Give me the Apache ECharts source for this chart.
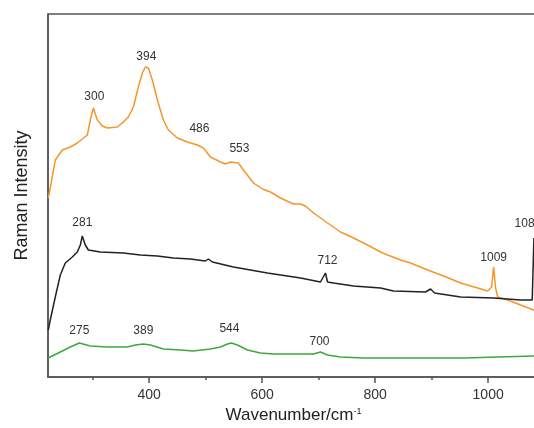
<!DOCTYPE html>
<html>
<head>
<meta charset="utf-8">
<script src="https://cdn.jsdelivr.net/npm/echarts@6/dist/echarts.min.js"></script>
<style>
    html, body { margin: 0; padding: 0; background: #fff; }
    #main { width: 534px; height: 428px; }
</style>
</head>
<body>
<div id="main"></div>
<script type="text/javascript">
    // spectra: [wavenumber, intensity (arb.)]
    var orange = [
        [221.5, 179], [225, 189], [233.9, 217], [246.3, 227], [260.5, 230], [272.9, 234], [290.6, 242],
        [295.9, 257], [301.2, 269], [308.3, 257], [317.2, 251], [326, 249], [343.7, 250], [354.4, 255],
        [363.2, 260], [372.1, 270], [380.9, 290], [388, 304], [393.3, 310], [398.6, 309], [405.7, 297],
        [414.6, 277], [425.2, 257], [434.1, 247], [450, 239], [467.7, 235], [485.4, 232], [496.1, 229],
        [508.5, 220], [526.2, 215], [535, 213], [543.9, 215], [558, 214], [566.9, 207], [584.6, 194],
        [600.6, 188], [614.7, 185], [632.4, 179], [655.5, 173], [667.9, 173], [676.7, 171], [690.9, 164],
        [715.7, 154], [738.7, 145], [761.8, 139], [786.5, 132], [809.6, 125], [822, 122], [845, 117],
        [862.7, 114], [892.8, 107], [921.2, 101], [951.3, 94], [981.4, 89], [999.1, 86], [1006.2, 90],
        [1009.7, 110], [1013.2, 89], [1016.8, 80], [1034.5, 77], [1057.5, 72], [1080.6, 67], [1090, 65]
    ];
    var black = [
        [221.5, 47], [225, 57], [233.9, 80], [242.8, 102], [251.6, 114], [264, 120], [272.9, 125],
        [278.2, 132], [281.7, 141], [287, 132], [292.4, 127], [313.6, 125], [354.4, 124], [384.5, 122],
        [414.6, 121], [443, 119], [473, 118], [499.6, 116], [504.9, 118], [512, 115], [549.2, 110],
        [609.4, 104], [667.9, 99], [703.3, 95], [712.1, 104], [715.7, 95], [726.3, 94], [761.8, 91],
        [809.6, 89], [832.6, 86], [889.3, 85], [898.1, 88], [905.2, 84], [951.3, 80], [1009.7, 79],
        [1057.5, 77], [1078, 77], [1081, 139], [1084, 77]
    ];
    var green = [
        [221.5, 19], [242.8, 25], [260.5, 30], [276.4, 34], [295.9, 31], [326, 30], [361.4, 30],
        [375.6, 32], [389.8, 33], [402.2, 32], [425.2, 28], [455.3, 27], [478.3, 26], [508.5, 28],
        [526.2, 30], [538.6, 33], [545.7, 34], [556.3, 32], [574, 27], [597, 24], [620, 23], [650.1, 23],
        [667.9, 23], [690.9, 23], [703.3, 25], [715.7, 22], [738.7, 20], [779.4, 19], [839.7, 19],
        [898.1, 19], [956.6, 19], [1016.8, 20], [1080.6, 21], [1090, 21]
    ];

    // peak annotations: [wavenumber of the point, text]
    var orangePeaks = [[301.2, '300'], [393.3, '394'], [485.4, '486'], [558, '553'], [1009.7, '1009']];
    var blackPeaks = [[281.7, '281'], [712.1, '712'], [1081, '1086']];
    var greenPeaks = [[276.4, '275'], [389.8, '389'], [545.7, '544'], [703.3, '700']];

    var majorTicks = [400, 600, 800, 1000];
    var minorTicks = [300, 500, 700, 900];

    // label nudges [dx, distance above point]
    var labelNudge = {
        '300': [1, 5], '394': [1, 4], '486': [2, 10], '553': [1, 8], '1009': [0, 3],
        '281': [0, 7], '712': [2, 6], '1086': [-6, 8],
        '275': [0, 6], '389': [0, 7], '544': [-2, 8], '700': [-1, 4]
    };

    var font = 'Liberation Sans';

    var buildData = function (points, peaks) {
        return points.map(function (p) {
            var hit = null;
            peaks.forEach(function (pk) { if (pk[0] === p[0]) hit = pk[1]; });
            if (!hit) return { value: p };
            var n = labelNudge[hit];
            return {
                value: p,
                label: {
                    show: true,
                    position: 'top',
                    formatter: hit,
                    distance: n[1],
                    offset: [n[0], 0],
                    color: '#333',
                    fontSize: 12,
                    fontFamily: font
                }
            };
        });
    };

    var makeSeries = function (name, points, peaks, color) {
        return {
            name: name,
            type: 'line',
            xAxisIndex: 0,
            data: buildData(points, peaks),
            symbol: 'circle',
            symbolSize: 0,
            showSymbol: true,
            showAllSymbol: true,
            lineStyle: { color: color, width: 1.5 },
            itemStyle: { color: color },
            z: 3
        };
    };

    var myChart = echarts.init(document.getElementById('main'));
    var option = {
        animation: false,
        backgroundColor: '#fff',
        grid: {
            left: 48,
            top: 14,
            width: 491,
            height: 363,
            show: true,
            borderColor: '#555',
            borderWidth: 1.5,
            containLabel: false,
            outerBoundsMode: 'none'
        },
        xAxis: [{
            type: 'value',
            position: 'bottom',
            min: 221,
            max: 1090,
            name: 'Wavenumber/cm{sup|-1}',
            nameLocation: 'middle',
            nameGap: 28,
            nameTextStyle: {
                color: '#222',
                fontSize: 17,
                fontFamily: font,
                rich: { sup: { fontSize: 9, verticalAlign: 'top', color: '#222', padding: [0, 0, 8, 0] } }
            },
            axisLine: { show: true, lineStyle: { color: '#555', width: 1.5 } },
            axisTick: { show: true, customValues: majorTicks, length: 6, lineStyle: { color: '#555', width: 1.5 } },
            axisLabel: {
                customValues: majorTicks,
                margin: 11,
                color: '#333',
                fontSize: 14,
                fontFamily: font,
                formatter: function (v) { return String(v); }
            },
            splitLine: { show: false }
        }, {
            type: 'value',
            position: 'bottom',
            offset: 0,
            min: 221,
            max: 1090,
            axisLine: { show: false },
            axisTick: { show: true, customValues: minorTicks, length: 3, lineStyle: { color: '#555', width: 1.5 } },
            axisLabel: { show: false },
            splitLine: { show: false }
        }],
        yAxis: {
            type: 'value',
            min: 0,
            max: 363,
            name: 'Raman Intensity',
            nameLocation: 'middle',
            nameGap: 17,
            nameTextStyle: { color: '#222', fontSize: 18, fontFamily: font },
            axisLine: { show: true, lineStyle: { color: '#555', width: 1.5 } },
            axisTick: { show: false },
            axisLabel: { show: false },
            splitLine: { show: false }
        },
        series: [
            makeSeries('orange', orange, orangePeaks, '#f7952a'),
            makeSeries('black', black, blackPeaks, '#222222'),
            makeSeries('green', green, greenPeaks, '#3ea83e')
        ]
    };
    myChart.setOption(option);
</script>
</body>
</html>
